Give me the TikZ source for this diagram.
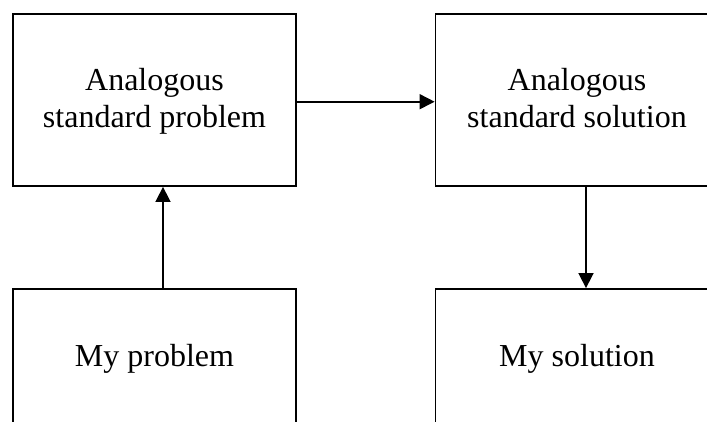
\documentclass[tikz,border=0pt]{standalone}
\usepackage{fontspec}
\setmainfont{Liberation Serif}
\usetikzlibrary{arrows.meta}
\newcommand\mystr{\rule[-8.6pt]{0pt}{35.6pt}}
\begin{document}
\begin{tikzpicture}[x=1pt,y=-1pt,
  box/.style={draw,line width=1.8pt,minimum width=283pt,align=center,inner sep=0pt,
    font=\fontsize{32}{37}\selectfont},
  conn/.style={line width=1.6pt,-{Triangle[length=15pt,width=15pt]}}]
\clip (0,0) rectangle (707,421);
\node[box,minimum height=172pt] (asp) at (154.5,100) {Analogous\mystr\\standard problem\mystr};
\node[box,minimum height=172pt] (ass) at (577,100) {Analogous\mystr\\standard solution\mystr};
\node[box,minimum height=136pt] (mp) at (154.5,357) {My problem\mystr};
\node[box,minimum height=136pt] (ms) at (577,357) {My solution\mystr};
\draw[conn] (asp.east |- 0,101.7) -- (ass.west |- 0,101.7);
\draw[conn] (mp.north -| 163,0) -- (asp.south -| 163,0);
\draw[conn] (ass.south -| 586,0) -- (ms.north -| 586,0);
\end{tikzpicture}
\end{document}
